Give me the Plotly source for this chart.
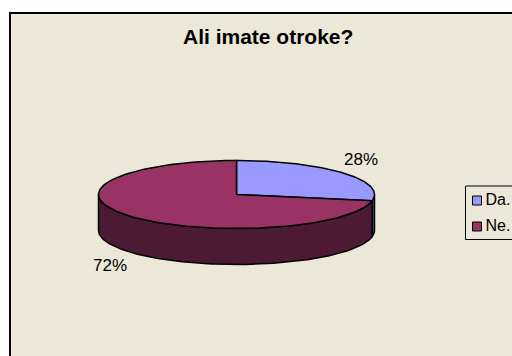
import numpy as np
import plotly.graph_objects as go

# Survey answers
categories = ["Da.", "Ne."]
shares = [28, 72]
top_colors = ["#9999FF", "#993366"]
side_colors = ["#4D4D80", "#4D1A33"]
title_text = "Ali imate otroke?"

# Pie geometry in page units
CX, CY = 236.5, 194.5
RX, RY = 138, 34
DEPTH = 36
FONT = "Liberation Sans, Arial, sans-serif"


def rim(a0, a1, n=120, drop=0):
    """Points on the ellipse, angles in degrees clockwise from twelve o'clock."""
    t = np.radians(np.linspace(a0, a1, n))
    return CX + RX * np.sin(t), CY - RY * np.cos(t) + drop


fig = go.Figure()

# Turn the shares into slice angle spans
edges = np.cumsum([0] + shares) / sum(shares) * 360
spans = list(zip(edges[:-1], edges[1:]))

# Visible wall: only the front half of the rim, 90 to 270 degrees
for (a0, a1), name, color in zip(spans, categories, side_colors):
    lo, hi = max(a0, 90), min(a1, 270)
    if lo >= hi:
        continue
    tx, ty = rim(lo, hi)
    bx, by = rim(hi, lo, drop=DEPTH)
    fig.add_trace(go.Scatter(
        x=np.r_[tx, bx, tx[0]], y=np.r_[ty, by, ty[0]],
        mode="lines", fill="toself", fillcolor=color,
        line=dict(color="black", width=1.5),
        showlegend=False, hoverinfo="skip", name=name,
    ))

# Top face of each slice
for (a0, a1), name, color in zip(spans, categories, top_colors):
    rx_, ry_ = rim(a0, a1)
    fig.add_trace(go.Scatter(
        x=np.r_[CX, rx_, CX], y=np.r_[CY, ry_, CY],
        mode="lines", fill="toself", fillcolor=color,
        line=dict(color="black", width=1.5),
        showlegend=False, name=name,
    ))

# Percentage labels beside the pie
fig.add_trace(go.Scatter(
    x=[361, 110], y=[160.5, 266.5],
    mode="text", text=[f"{v}%" for v in shares],
    textposition="middle center",
    textfont=dict(family=FONT, size=17, color="black"),
    showlegend=False, hoverinfo="skip",
))

# Legend swatches and entries
fig.add_trace(go.Scatter(
    x=[477, 477], y=[200.5, 226.5], mode="markers",
    marker=dict(symbol="square", size=9, color=top_colors,
                line=dict(color="black", width=1)),
    showlegend=False, hoverinfo="skip",
))
fig.add_trace(go.Scatter(
    x=[485.5, 485.5], y=[201, 227], mode="text",
    text=categories, textposition="middle right",
    textfont=dict(family=FONT, size=16, color="black"),
    showlegend=False, hoverinfo="skip", cliponaxis=False,
))

fig.update_layout(
    width=512, height=356,
    margin=dict(l=0, r=0, t=0, b=0),
    paper_bgcolor="white", plot_bgcolor="white",
    xaxis=dict(range=[0, 512], visible=False, fixedrange=True),
    yaxis=dict(range=[356, 0], visible=False, fixedrange=True),
    shapes=[
        # Chart area frame, running off the right and bottom edges
        dict(type="rect", x0=10, y0=13, x1=530, y1=380, layer="below",
             fillcolor="#EBE8D8", line=dict(color="black", width=2)),
        # Legend box, open past the right edge
        dict(type="rect", x0=465.5, y0=186, x1=530, y1=239.5, layer="below",
             fillcolor="#EBE8D8", line=dict(color="black", width=1)),
    ],
    annotations=[dict(
        text=f"<b>{title_text}</b>", x=267.5, y=36.5,
        xref="x", yref="y", showarrow=False,
        font=dict(family=FONT, size=21, color="black"),
    )],
)

fig.write_html("out.html", config=dict(displayModeBar=False))
